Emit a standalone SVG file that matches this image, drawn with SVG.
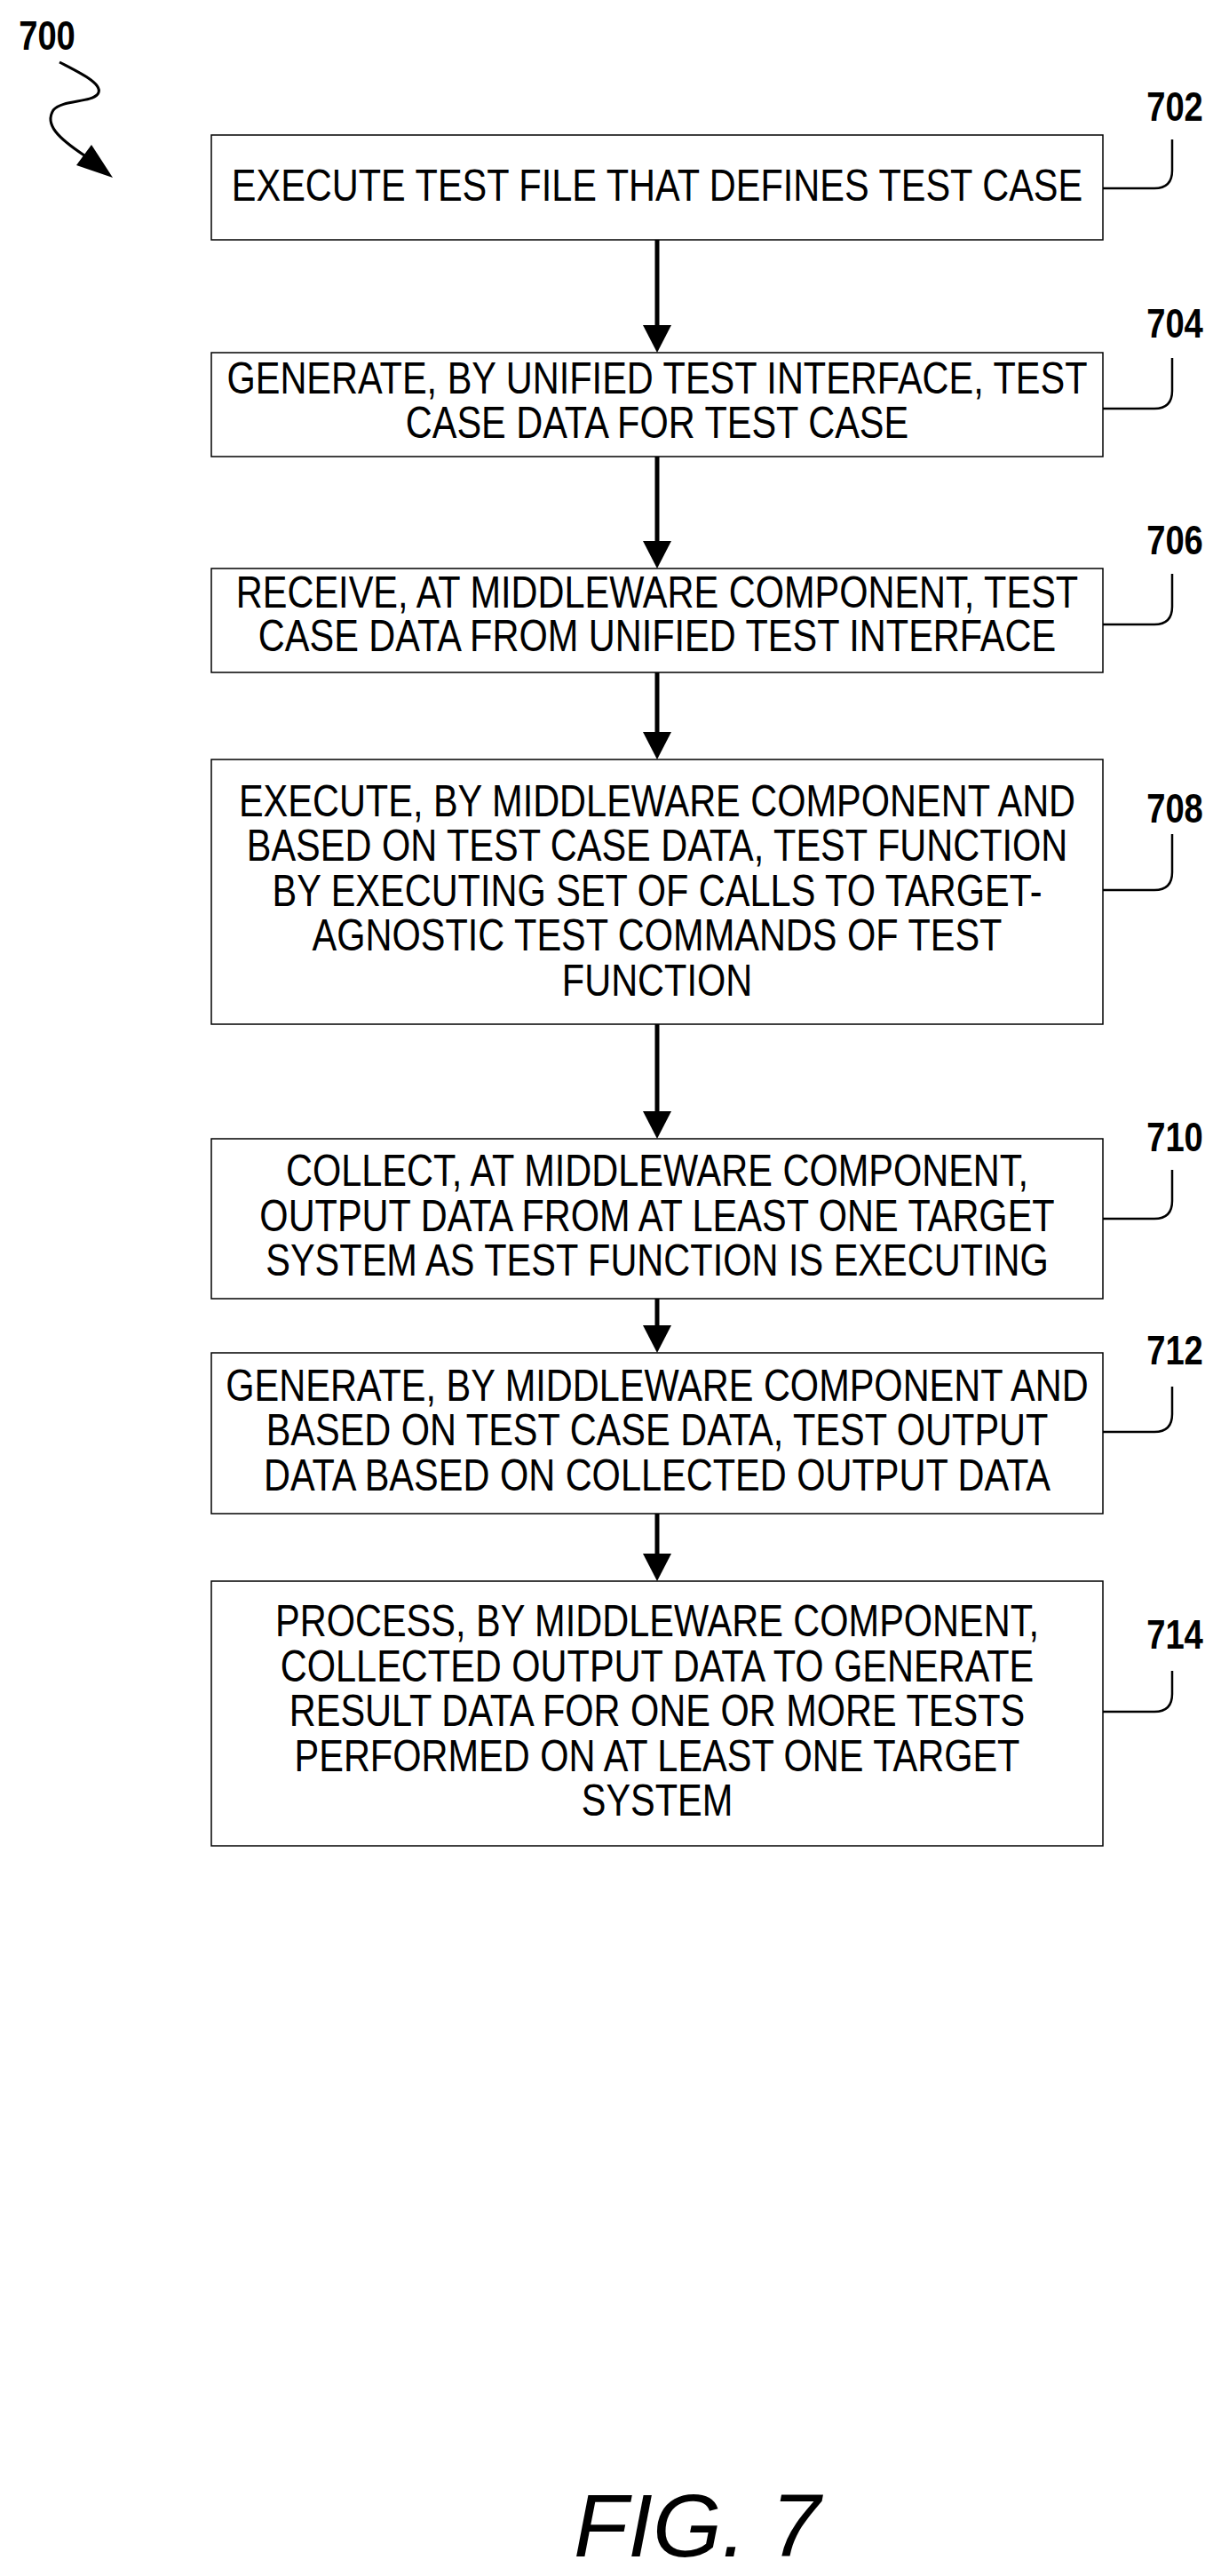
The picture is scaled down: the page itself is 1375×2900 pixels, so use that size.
<svg xmlns="http://www.w3.org/2000/svg" width="1375" height="2900" viewBox="0 0 1375 2900">
<style>
.box{fill:#fff;stroke:#000;stroke-width:1.5}
.t{font-family:"Liberation Sans",Arial,sans-serif;font-size:50px;text-anchor:middle;fill:#000}
.ref{font-family:"Liberation Sans",Arial,sans-serif;font-size:46px;font-weight:bold;text-anchor:middle;fill:#000}
.ld{fill:none;stroke:#000;stroke-width:2.5}
.ar{stroke:#000;stroke-width:5;fill:none}
</style>
<rect width="1375" height="2900" fill="#fff"/>
<g id="label700">
<g transform="translate(53 0) scale(0.83 1)"><text class="ref" x="0" y="56">700</text></g>
<path d="M67,70 C90,82 118,95 110,106 C102,116 70,112 60,124 C50,140 65,155 95,175" fill="none" stroke="#000" stroke-width="3"/>
<path d="M103,163 L86,186 L127,200 Z" fill="#000"/>
</g>
<g id="connectors">
<line class="ar" x1="740" y1="270" x2="740" y2="370"/>
<path d="M724,366 L740,397 L756,366 Z"/>
<line class="ar" x1="740" y1="514" x2="740" y2="612"/>
<path d="M724,609 L740,640 L756,609 Z"/>
<line class="ar" x1="740" y1="757" x2="740" y2="828"/>
<path d="M724,824 L740,855 L756,824 Z"/>
<line class="ar" x1="740" y1="1153" x2="740" y2="1255"/>
<path d="M724,1251 L740,1282 L756,1251 Z"/>
<line class="ar" x1="740" y1="1462" x2="740" y2="1495"/>
<path d="M724,1492 L740,1523 L756,1492 Z"/>
<line class="ar" x1="740" y1="1704" x2="740" y2="1752"/>
<path d="M724,1749 L740,1780 L756,1749 Z"/>
</g>
<g id="n702">
<rect class="box" x="238" y="152" width="1004" height="118"/>
<path class="ld" d="M1242,212 H1300 Q1320,212 1320,192 V157"/>
<g transform="translate(740 0) scale(0.83 1)"><text class="t" x="0" y="226">EXECUTE TEST FILE THAT DEFINES TEST CASE</text></g>
<g transform="translate(1323 0) scale(0.83 1)"><text class="ref" x="0" y="136">702</text></g>
</g>
<g id="n704">
<rect class="box" x="238" y="397" width="1004" height="117"/>
<path class="ld" d="M1242,460 H1300 Q1320,460 1320,440 V403"/>
<g transform="translate(740 0) scale(0.83 1)">
<text class="t" x="0" y="443">GENERATE, BY UNIFIED TEST INTERFACE, TEST</text>
<text class="t" x="0" y="493">CASE DATA FOR TEST CASE</text></g>
<g transform="translate(1323 0) scale(0.83 1)"><text class="ref" x="0" y="380">704</text></g>
</g>
<g id="n706">
<rect class="box" x="238" y="640" width="1004" height="117"/>
<path class="ld" d="M1242,703 H1300 Q1320,703 1320,683 V646"/>
<g transform="translate(740 0) scale(0.83 1)">
<text class="t" x="0" y="684">RECEIVE, AT MIDDLEWARE COMPONENT, TEST</text>
<text class="t" x="0" y="733">CASE DATA FROM UNIFIED TEST INTERFACE</text></g>
<g transform="translate(1323 0) scale(0.83 1)"><text class="ref" x="0" y="624">706</text></g>
</g>
<g id="n708">
<rect class="box" x="238" y="855" width="1004" height="298"/>
<path class="ld" d="M1242,1002 H1300 Q1320,1002 1320,982 V939"/>
<g transform="translate(740 0) scale(0.83 1)">
<text class="t" x="0" y="919">EXECUTE, BY MIDDLEWARE COMPONENT AND</text>
<text class="t" x="0" y="969">BASED ON TEST CASE DATA, TEST FUNCTION</text>
<text class="t" x="0" y="1020">BY EXECUTING SET OF CALLS TO TARGET-</text>
<text class="t" x="0" y="1070">AGNOSTIC TEST COMMANDS OF TEST</text>
<text class="t" x="0" y="1121">FUNCTION</text></g>
<g transform="translate(1323 0) scale(0.83 1)"><text class="ref" x="0" y="926">708</text></g>
</g>
<g id="n710">
<rect class="box" x="238" y="1282" width="1004" height="180"/>
<path class="ld" d="M1242,1372 H1300 Q1320,1372 1320,1352 V1317"/>
<g transform="translate(740 0) scale(0.83 1)">
<text class="t" x="0" y="1335">COLLECT, AT MIDDLEWARE COMPONENT,</text>
<text class="t" x="0" y="1386">OUTPUT DATA FROM AT LEAST ONE TARGET</text>
<text class="t" x="0" y="1436">SYSTEM AS TEST FUNCTION IS EXECUTING</text></g>
<g transform="translate(1323 0) scale(0.83 1)"><text class="ref" x="0" y="1296">710</text></g>
</g>
<g id="n712">
<rect class="box" x="238" y="1523" width="1004" height="181"/>
<path class="ld" d="M1242,1612 H1300 Q1320,1612 1320,1592 V1561"/>
<g transform="translate(740 0) scale(0.83 1)">
<text class="t" x="0" y="1577">GENERATE, BY MIDDLEWARE COMPONENT AND</text>
<text class="t" x="0" y="1627">BASED ON TEST CASE DATA, TEST OUTPUT</text>
<text class="t" x="0" y="1678">DATA BASED ON COLLECTED OUTPUT DATA</text></g>
<g transform="translate(1323 0) scale(0.83 1)"><text class="ref" x="0" y="1536">712</text></g>
</g>
<g id="n714">
<rect class="box" x="238" y="1780" width="1004" height="298"/>
<path class="ld" d="M1242,1927 H1300 Q1320,1927 1320,1907 V1881"/>
<g transform="translate(740 0) scale(0.83 1)">
<text class="t" x="0" y="1842">PROCESS, BY MIDDLEWARE COMPONENT,</text>
<text class="t" x="0" y="1893">COLLECTED OUTPUT DATA TO GENERATE</text>
<text class="t" x="0" y="1943">RESULT DATA FOR ONE OR MORE TESTS</text>
<text class="t" x="0" y="1994">PERFORMED ON AT LEAST ONE TARGET</text>
<text class="t" x="0" y="2044">SYSTEM</text></g>
<g transform="translate(1323 0) scale(0.83 1)"><text class="ref" x="0" y="1856">714</text></g>
</g>
<text x="785" y="2878" font-family="Liberation Sans,Arial,sans-serif" font-size="100" font-style="italic" text-anchor="middle">FIG. 7</text>
</svg>
